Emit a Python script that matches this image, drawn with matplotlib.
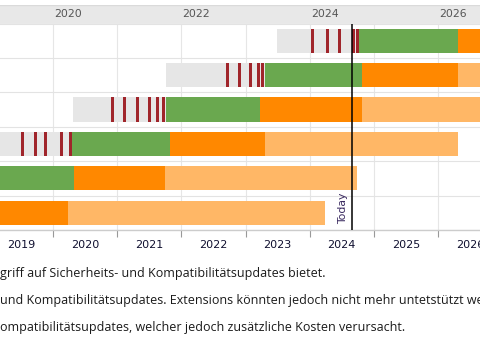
import matplotlib
matplotlib.use("Agg")
import matplotlib.pyplot as plt

# ---- data ----
rows = ["TYPO3 v13", "TYPO3 v12", "TYPO3 v11", "TYPO3 v10", "TYPO3 v9", "TYPO3 v8"]
dev_start = [2023.49, 2021.756, 2020.31, 2018.5, 2016.5, 2015.5]
regular_start = [2024.77, 2023.30, 2021.76, 2020.30, 2017.9, 2016.5]
security_start = [2026.31, 2024.815, 2023.226, 2021.82, 2020.33, 2017.5]
elts_start = [2027.8, 2026.31, 2024.815, 2023.31, 2021.745, 2020.23]
elts_end = [2030.8, 2029.3, 2027.8, 2026.31, 2024.74, 2024.24]
sprint_releases = [
    [2024.05, 2024.27, 2024.47, 2024.68, 2024.75],
    [2022.727, 2022.899, 2023.07, 2023.195, 2023.265],
    [2020.935, 2021.12, 2021.31, 2021.51, 2021.636, 2021.725],
    [2019.53, 2019.72, 2019.89, 2020.125, 2020.27],
    [],
    [],
]
today = 2024.655
years = [2019, 2020, 2021, 2022, 2023, 2024, 2025, 2026]
top_years = [2020, 2022, 2024, 2026]
notes = [
    "griff auf Sicherheits- und Kompatibilitätsupdates bietet.",
    "und Kompatibilitätsupdates. Extensions könnten jedoch nicht mehr untetstützt werden",
    "ompatibilitätsupdates, welcher jedoch zusätzliche Kosten verursacht.",
]

# ---- style ----
C_DEV = "#e6e6e6"
C_REG = "#6aa84f"
C_SEC = "#ff8800"
C_ELTS = "#ffb766"
C_REL = "#a0252b"
W, H = 480, 361
PX_YR = 64.17
x0, x1 = 2020 - 53 / PX_YR, 2020 + (480 - 53) / PX_YR

fig = plt.figure(figsize=(W / 100, H / 100), dpi=100)

def fy(py):
    return 1 - py / H

# main gantt axes
ax = fig.add_axes([0, fy(230), 1, (230 - 23.5) / H])
for s in ax.spines.values():
    s.set_visible(False)
ax.spines["bottom"].set_visible(True)
ax.spines["bottom"].set_color("#cccccc")
ax.spines["bottom"].set_linewidth(1)

# gridlines
for yv in range(years[0], years[-1] + 1):
    ax.axvline(yv, color="#e6e6e6", lw=0.8, zorder=0)
for i in range(len(rows) + 1):
    ax.axhline(i - 0.5, color="#e3e3e3", lw=0.8, zorder=0)

bh = 0.70
for i in range(len(rows)):
    ax.barh(i, regular_start[i] - dev_start[i], left=dev_start[i], height=bh, color=C_DEV, zorder=2)
    ax.barh(i, security_start[i] - regular_start[i], left=regular_start[i], height=bh, color=C_REG, zorder=2)
    ax.barh(i, elts_start[i] - security_start[i], left=security_start[i], height=bh, color=C_SEC, zorder=2)
    ax.barh(i, elts_end[i] - elts_start[i], left=elts_start[i], height=bh, color=C_ELTS, zorder=2)
    rw = 3.0 / PX_YR
    for r in sprint_releases[i]:
        ax.barh(i, rw, left=r - rw / 2, height=bh, color=C_REL, zorder=3)

# today line
ax.axvline(today, color="black", lw=1.1, zorder=5)
ax.text(today - 9 / PX_YR, 5.32, "Today", rotation=90, ha="center", va="bottom",
        fontsize=7.8, color="#3a2a60", family="DejaVu Sans", zorder=6)

# ticks
ax.set_yticks([])
ax.set_xticks(list(range(years[0], years[-1] + 1)))
ax.set_xticklabels([])
ax.tick_params(axis="x", which="major", length=5, width=0.8, color="#999999", direction="out")
ax.set_xticks([y + 0.5 for y in years], minor=True)
ax.set_xticklabels([str(y) for y in years], minor=True, fontsize=8, color="#101030")
ax.tick_params(axis="x", which="minor", length=0, pad=7)
ax.set_xlim(x0, x1)
ax.set_ylim(len(rows) - 0.5, -0.5)

# header band
hx = fig.add_axes([0, fy(23.5), 1, (23.5 - 5) / H])
hx.set_facecolor("#e8e8e8")
hx.set_xticks([])
hx.set_yticks([])
for s in hx.spines.values():
    s.set_visible(False)
hx.axhline(1, color="#dadada", lw=1)
hx.axhline(0, color="#f2f2f2", lw=1)
hx.set_xlim(x0, x1)
hx.set_ylim(0, 1)
for yv in top_years:
    hx.text(yv + 15 / PX_YR, 0.5, str(yv), ha="center", va="center", fontsize=7.8, color="#555555")

# notes
baselines = [277, 304, 331]
for t, b in zip(notes, baselines):
    fig.text(0.0, fy(b), t, ha="left", va="baseline", fontsize=9, color="#1a1a1a", family="Open Sans")

fig.savefig("out.png", dpi=100)
